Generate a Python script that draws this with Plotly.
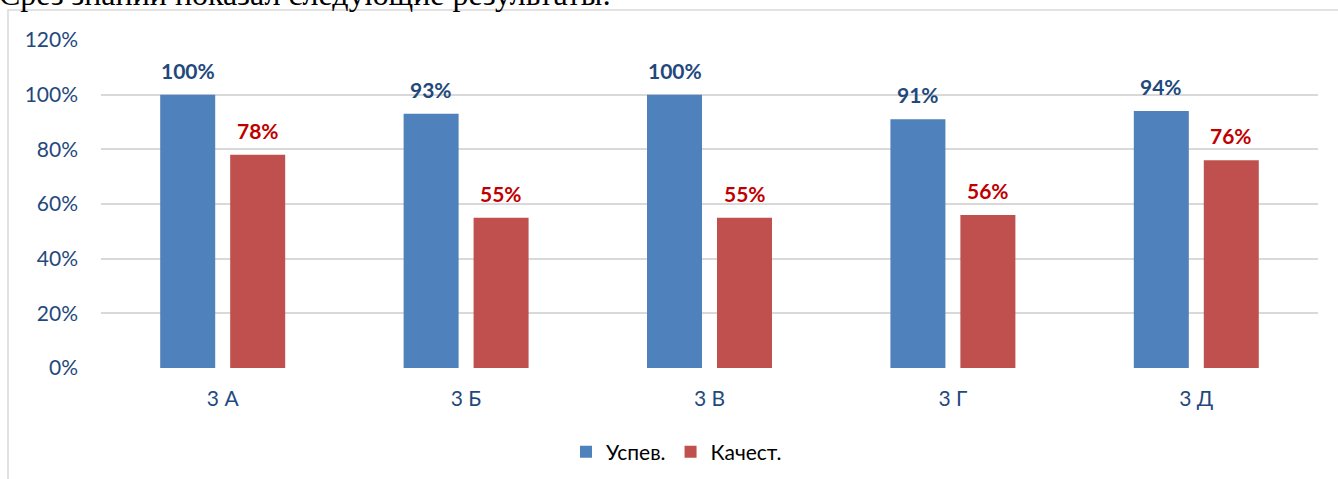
import plotly.graph_objects as go

classes = ["3 А", "3 Б", "3 В", "3 Г", "3 Д"]
uspev = [1.00, 0.93, 1.00, 0.91, 0.94]
kachest = [0.78, 0.55, 0.55, 0.56, 0.76]
tick_vals = [0, 0.2, 0.4, 0.6, 0.8, 1.0, 1.2]
tick_text = ["0%", "20%", "40%", "60%", "80%", "100%", "120%"]

W, H = 1338, 479
L, R, T, B = 101, 20, 40, 111
plot_h = H - T - B
plot_w = W - L - R

def px_y(y):
    return (H - B - y) / plot_h

def px_x(x):
    return (x - L) / plot_w

blue = "#4F81BD"
red = "#C0504D"
axis_blue = "#1F497D"
font_family = "Lato, Carlito, Calibri, sans-serif"

fig = go.Figure()
fig.add_trace(go.Bar(name="Успев.", x=classes, y=uspev, marker=dict(color=blue, line=dict(width=0))))
fig.add_trace(go.Bar(name="Качест.", x=classes, y=kachest, marker=dict(color=red, line=dict(width=0))))

annotations = []
for i, c in enumerate(classes):
    annotations.append(dict(x=c, y=uspev[i], xref="x", yref="y", text=f"{round(uspev[i]*100)}%",
                            showarrow=False, yanchor="bottom", yshift=10, xshift=-35,
                            font=dict(family=font_family, size=21, color=axis_blue, weight="bold")))
    annotations.append(dict(x=c, y=kachest[i], xref="x", yref="y", text=f"{round(kachest[i]*100)}%",
                            showarrow=False, yanchor="bottom", yshift=10, xshift=35,
                            font=dict(family=font_family, size=21, color="#C00000", weight="bold")))

# Heading line of the document above the chart
annotations.append(dict(x=px_x(-3), y=px_y(14), xref="paper", yref="paper",
                        text="Срез знаний показал следующие результаты:", showarrow=False,
                        xanchor="left", yanchor="bottom",
                        font=dict(family="Liberation Serif, Times New Roman, serif", size=32, color="#000000")))

fig.update_layout(
    width=W, height=H,
    margin=dict(l=L, r=R, t=T, b=B, autoexpand=False),
    paper_bgcolor="white", plot_bgcolor="white",
    barmode="group", bargap=0.425, bargroupgap=0.214,
    font=dict(family=font_family, size=21, color=axis_blue),
    xaxis=dict(showgrid=False, showline=False, ticks="", tickfont=dict(size=21, color=axis_blue),
               ticklabelstandoff=16),
    yaxis=dict(range=[0, 1.2], tickvals=tick_vals, ticktext=tick_text, showgrid=True,
               gridcolor="#D9D9D9", gridwidth=2, zeroline=False, showline=False,
               tickfont=dict(size=21, color=axis_blue), ticklabelstandoff=22),
    legend=dict(orientation="h", x=px_x(566), y=px_y(452), xanchor="left", yanchor="middle",
                font=dict(size=21, color="#000000"), itemwidth=30, traceorder="normal"),
    annotations=annotations,
    shapes=[dict(type="rect", xref="paper", yref="paper",
                 x0=px_x(8), x1=px_x(1360), y0=px_y(10), y1=px_y(520),
                 line=dict(color="#D9D9D9", width=1.5), fillcolor="rgba(0,0,0,0)", layer="below")],
)

fig.write_html("out.html")
